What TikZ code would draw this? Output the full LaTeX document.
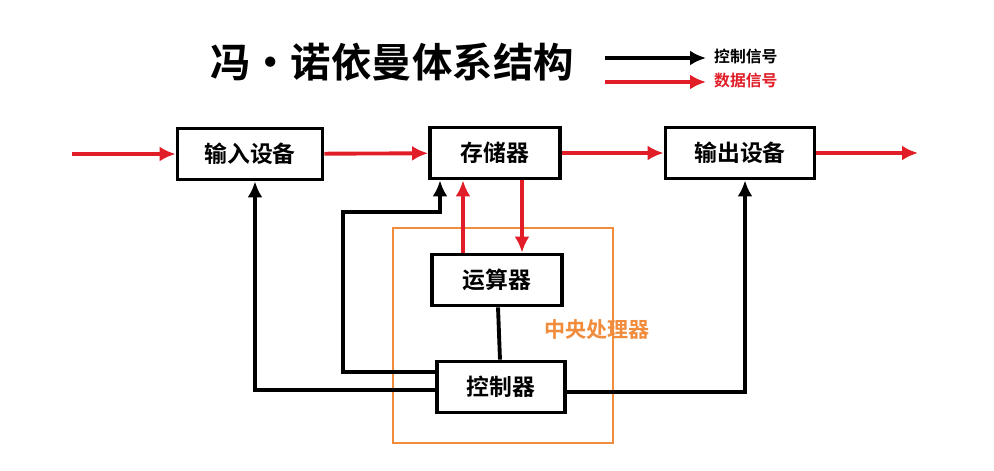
\documentclass[tikz,border=0pt]{standalone}
\usepackage{fontspec}
\newfontfamily\cjk{Noto Sans CJK SC}[BoldFont={Noto Sans CJK SC Bold}]
\usetikzlibrary{arrows.meta,calc}
\definecolor{dred}{RGB}{225,30,40}
\definecolor{cpuorange}{RGB}{240,140,60}
\tikzset{
    block/.style = {draw, rectangle, line width=2.2pt, font=\cjk\bfseries\fontsize{13}{15}\selectfont,
        minimum height=1.02cm, inner sep=0pt},
    ctrl/.style = {draw, line width=2.2pt, -{Latex[length=3.2mm,width=3mm]}},
    data/.style = {draw=dred, line width=2.2pt, -{Latex[length=3.2mm,width=3mm]}},
    line/.style = {draw, line width=2.2pt}
}
\begin{document}
\begin{tikzpicture}[x=0.02cm,y=-0.02cm]
    \useasboundingbox[fill=white] (0,0) rectangle (994,470);
    \node[font=\cjk\bfseries\fontsize{23}{26}\selectfont] (title) at (392,62) {冯·诺依曼体系结构};
    % legend
    \coordinate (lc1) at (605,58); \coordinate (lc2) at (706,58);
    \coordinate (ld1) at (605,82); \coordinate (ld2) at (706,82);
    \draw[ctrl] (lc1) -- (lc2);
    \draw[data] (ld1) -- (ld2);
    \node[font=\cjk\bfseries\fontsize{9}{11}\selectfont, anchor=west] (lctrl) at (708,56) {控制信号};
    \node[font=\cjk\bfseries\fontsize{9}{11}\selectfont, anchor=west, text=dred] (ldata) at (708,81) {数据信号};
    % cpu
    \draw[cpuorange, line width=1.5pt] (393,228) rectangle (613,443);
    \node[font=\cjk\bfseries\fontsize{12}{14}\selectfont, text=cpuorange] (cpu) at (597,330) {中央处理器};
    % blocks
    \node[block, minimum width=2.9cm] (in) at (250,154) {输入设备};
    \node[block, minimum width=2.6cm] (mem) at (495,153) {存储器};
    \node[block, minimum width=2.98cm] (out) at (740,153) {输出设备};
    \node[block, minimum width=2.6cm] (alu) at (497,280) {运算器};
    \node[block, minimum width=2.56cm] (cu) at (501,387) {控制器};
    % data
    \coordinate (src) at (72,154); \coordinate (dst) at (918,153);
    \draw[data] (src) -- (in);
    \draw[data] (in) -- (mem);
    \draw[data] (mem) -- (out);
    \draw[data] (out) -- (dst);
    \draw[data] (alu.north -| 463,0) -- (mem.south -| 463,0);
    \draw[data] (mem.south -| 522,0) -- (alu.north -| 522,0);
    % control
    \draw[line] (alu) -- (cu);
    \draw[ctrl] (cu.west |- 0,372) -- (343,372) -- (343,212) -- (440,212) -- (mem.south -| 440,0);
    \draw[ctrl] (cu.west |- 0,390) -- (255,390) -- (in.south -| 255,0);
    \draw[ctrl] (cu.east |- 0,392) -- (745,392) -- (out.south -| 745,0);
\end{tikzpicture}
\end{document}
